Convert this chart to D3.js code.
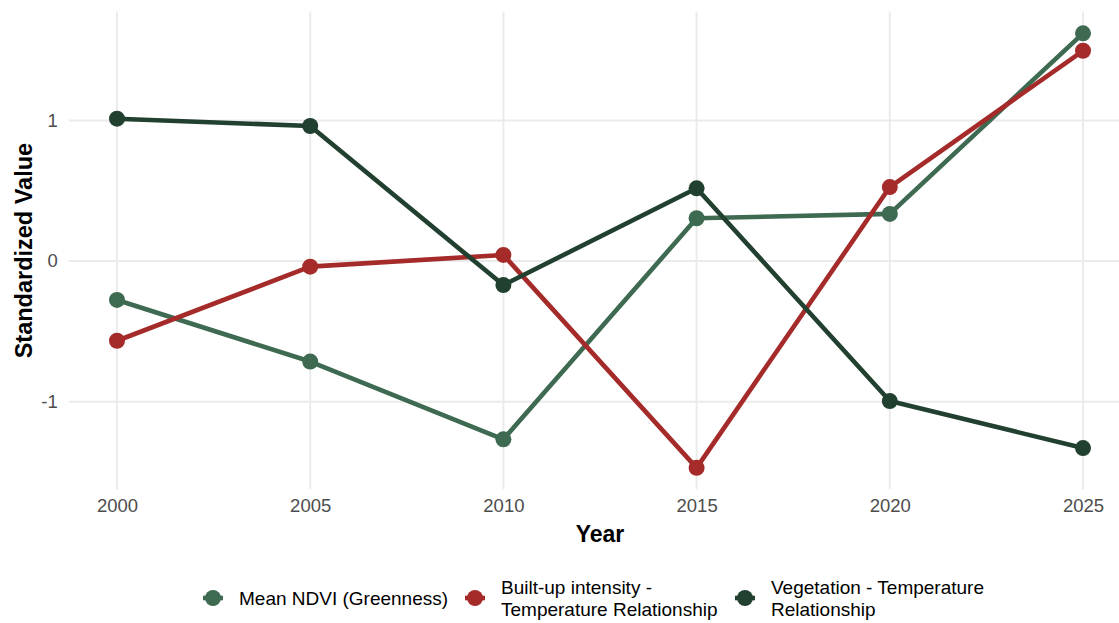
<!DOCTYPE html>
<html>
<head>
<meta charset="utf-8">
<script src="https://cdn.jsdelivr.net/npm/d3@7"></script>
<style>
  html, body { margin: 0; padding: 0; background: #fff; }
  svg { display: block; font-family: "Liberation Sans", Arial, Helvetica, sans-serif; }
</style>
</head>
<body>
<svg id="chart" width="1119" height="623"></svg>
<script>
const years = [2000, 2005, 2010, 2015, 2020, 2025];
const seriesNames = ["Mean NDVI (Greenness)", "Built-up intensity - Temperature Relationship", "Vegetation - Temperature Relationship"];
const legendLines = [["Mean NDVI (Greenness)"], ["Built-up intensity -", "Temperature Relationship"], ["Vegetation - Temperature", "Relationship"]];
const ndvi = [-0.277, -0.715, -1.268, 0.304, 0.335, 1.619];
const builtup = [-0.567, -0.040, 0.043, -1.471, 0.526, 1.495];
const vegetation = [1.012, 0.960, -0.171, 0.517, -0.996, -1.330];
const colors = ["#3d6a51", "#a52a2a", "#22402f"];
const yTicks = [-1, 0, 1];
const xTicks = [2000, 2005, 2010, 2015, 2020, 2025];

const series = [ndvi, builtup, vegetation];

const svg = d3.select("#chart");
const panel = { left: 68.7, right: 1131.3, top: 11.6, bottom: 489.6 };

const allVals = series.flat();
const yMin = d3.min(allVals), yMax = d3.max(allVals);
const yPad = (yMax - yMin) * 0.05;
const x = d3.scaleLinear().domain([2000 - 1.25, 2025 + 1.25]).range([panel.left, panel.right]);
const y = d3.scaleLinear().domain([yMin - yPad, yMax + yPad]).range([panel.bottom, panel.top]);

// grid
const grid = svg.append("g");
grid.selectAll(".vg").data(xTicks).join("line")
  .attr("x1", d => x(d)).attr("x2", d => x(d))
  .attr("y1", panel.top).attr("y2", panel.bottom)
  .attr("stroke", "#ebebeb").attr("stroke-width", 2);
grid.selectAll(".hg").data(yTicks).join("line")
  .attr("x1", panel.left).attr("x2", panel.right)
  .attr("y1", d => y(d)).attr("y2", d => y(d))
  .attr("stroke", "#ebebeb").attr("stroke-width", 2);

// axes (text only)
const xAxis = d3.axisBottom(x).tickValues(xTicks).tickFormat(d3.format("d")).tickSize(0).tickPadding(9);
const gx = svg.append("g").attr("transform", `translate(0,${panel.bottom})`).call(xAxis);
gx.select(".domain").remove();
gx.selectAll("text").attr("fill", "#4d4d4d").attr("font-size", 18.5).attr("font-family", "Liberation Sans, Arial, sans-serif");

const yAxis = d3.axisLeft(y).tickValues(yTicks).tickFormat(d => d3.format("d")(d).replace("−", "-")).tickSize(0).tickPadding(11);
const gy = svg.append("g").attr("transform", `translate(${panel.left},0)`).call(yAxis);
gy.select(".domain").remove();
gy.selectAll("text").attr("fill", "#4d4d4d").attr("font-size", 18.5).attr("font-family", "Liberation Sans, Arial, sans-serif");

// axis titles
svg.append("text").attr("x", 600).attr("y", 541.5).attr("text-anchor", "middle")
  .attr("font-size", 23).attr("font-weight", "bold").attr("fill", "#000").text("Year");
svg.append("text").attr("transform", `translate(31.5,${(panel.top + panel.bottom) / 2}) rotate(-90)`)
  .attr("text-anchor", "middle").attr("font-size", 23.5).attr("font-weight", "bold").attr("fill", "#000")
  .text("Standardized Value");

// lines & points
const line = d3.line().x((d, i) => x(years[i])).y(d => y(d));
series.forEach((vals, si) => {
  svg.append("path").datum(vals).attr("d", line)
    .attr("fill", "none").attr("stroke", colors[si]).attr("stroke-width", 4.6)
    .attr("stroke-linejoin", "round");
});
series.forEach((vals, si) => {
  svg.append("g").selectAll("circle").data(vals).join("circle")
    .attr("cx", (d, i) => x(years[i])).attr("cy", d => y(d)).attr("r", 8)
    .attr("fill", colors[si]);
});

// legend
const legendX = [213, 475, 745];
const legendY = 598;
seriesNames.forEach((name, i) => {
  const g = svg.append("g");
  g.append("line").attr("x1", legendX[i] - 10).attr("x2", legendX[i] + 10)
    .attr("y1", legendY).attr("y2", legendY).attr("stroke", colors[i]).attr("stroke-width", 4.6);
  g.append("circle").attr("cx", legendX[i]).attr("cy", legendY).attr("r", 8).attr("fill", colors[i]);
  const lines = legendLines[i];
  const t = g.append("text").attr("x", legendX[i] + 26).attr("font-size", 19).attr("fill", "#000");
  const lh = 22;
  const startY = legendY - (lines.length - 1) * lh / 2 + 7;
  lines.forEach((l, j) => {
    t.append("tspan").attr("x", legendX[i] + 26).attr("y", startY + j * lh).text(l);
  });
});
</script>
</body>
</html>
